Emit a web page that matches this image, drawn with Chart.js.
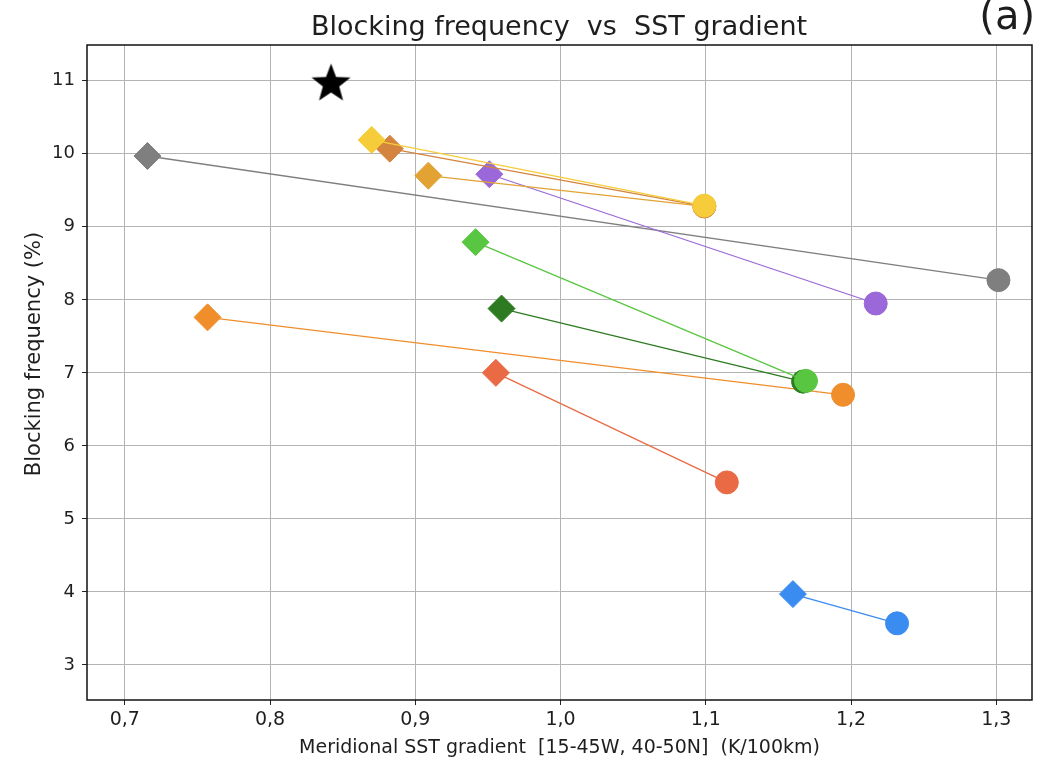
<!DOCTYPE html>
<html>
<head>
<meta charset="utf-8">
<script src="https://cdn.jsdelivr.net/npm/chart.js@4.4.1/dist/chart.umd.min.js"></script>
<style>
  html, body { margin: 0; padding: 0; background: #fff; }
  #wrap { width: 1053px; height: 764px; position: relative; }
</style>
</head>
<body>
<div id="wrap"><canvas id="c"></canvas></div>
<script>
'use strict';

// ── Data ────────────────────────────────────────────────────────────────────
// index 0 is drawn on top
var runColors  = ['#f6cc3a', '#d4843e', '#e2a234', '#9a68d8', '#58c640',
                  '#2e7a22', '#f08e2c', '#e96a44', '#3b8cf0', '#7f7f7f'];
var diamondX   = [0.870, 0.8825, 0.909, 0.951, 0.9415, 0.9594, 0.757, 0.9555, 1.160, 0.7156];
var diamondY   = [10.19, 10.07,  9.70,  9.72,  8.79,   7.88,   7.76,  7.00,   3.97,  9.97];
var circleX    = [1.099, 1.099,  1.099, 1.217, 1.169,  1.167,  1.1945, 1.1145, 1.2317, 1.3015];
var circleY    = [9.29,  9.28,   9.28,  7.95,  6.89,   6.88,   6.70,  5.50,   3.57,  8.27];
var starX      = [0.842];
var starY      = [10.98];

var xTicks     = [0.7, 0.8, 0.9, 1.0, 1.1, 1.2, 1.3];
var yTicks     = [3, 4, 5, 6, 7, 8, 9, 10, 11];

var FONT = "'DejaVu Sans', sans-serif";
var TXT  = '#1e1e1e';

// ── Star marker image ───────────────────────────────────────────────────────
function makeStar(r) {
  var c = document.createElement('canvas');
  c.width = c.height = Math.ceil(2 * r + 2);
  var g = c.getContext('2d');
  var cx = c.width / 2, cy = c.height / 2 + r * 0.08;
  g.beginPath();
  for (var i = 0; i < 10; i++) {
    var rr = (i % 2 === 0) ? r : r * 0.42;
    var a = -Math.PI / 2 + i * Math.PI / 5;
    var px = cx + rr * Math.cos(a), py = cy + rr * Math.sin(a);
    if (i === 0) g.moveTo(px, py); else g.lineTo(px, py);
  }
  g.closePath();
  g.fillStyle = '#000';
  g.fill();
  return c;
}

// ── Datasets ────────────────────────────────────────────────────────────────
var datasets = [{
  label: 'obs',
  data: [{ x: starX[0], y: starY[0] }],
  pointStyle: makeStar(20.5),
  showLine: false
}];
runColors.forEach(function (col, i) {
  datasets.push({
    label: 'run' + i,
    data: [{ x: diamondX[i], y: diamondY[i] }, { x: circleX[i], y: circleY[i] }],
    showLine: true,
    borderColor: col,
    borderWidth: 1.3,
    backgroundColor: col,
    pointBackgroundColor: col,
    pointBorderColor: col,
    pointBorderWidth: 1,
    pointStyle: ['rectRot', 'circle'],
    pointRadius: [13.5, 11.5]
  });
});

// ── Plugins: frame, title, panel letter, y-title ────────────────────────────
var decor = {
  id: 'decor',
  afterDraw: function (chart) {
    var ctx = chart.ctx, a = chart.chartArea;
    ctx.save();
    ctx.strokeStyle = '#111';
    ctx.lineWidth = 1.5;
    ctx.strokeRect(a.left, a.top, a.right - a.left, a.bottom - a.top);

    ctx.fillStyle = TXT;
    ctx.textBaseline = 'alphabetic';
    ctx.textAlign = 'center';
    ctx.font = '27px ' + FONT;
    ctx.fillText('Blocking frequency  vs  SST gradient', 559, 35);

    ctx.textAlign = 'right';
    ctx.font = '40px ' + FONT;
    ctx.fillText('(a)', 1035, 29);

    ctx.translate(35, 354);
    ctx.rotate(-Math.PI / 2);
    ctx.textAlign = 'center';
    ctx.textBaseline = 'middle';
    ctx.font = '21px ' + FONT;
    ctx.fillText('Blocking frequency (%)', 0, 0);
    ctx.restore();
  }
};

new Chart(document.getElementById('c'), {
  type: 'scatter',
  data: { datasets: datasets },
  options: {
    responsive: true,
    maintainAspectRatio: false,
    animation: false,
    events: [],
    layout: { padding: { top: 45, right: 21, left: 0, bottom: 0 } },
    plugins: { legend: { display: false }, tooltip: { enabled: false } },
    scales: {
      x: {
        type: 'linear',
        min: 0.674,
        max: 1.3246,
        afterFit: function (s) { s.height = 64; },
        afterBuildTicks: function (s) { s.ticks = xTicks.map(function (v) { return { value: v }; }); },
        ticks: {
          font: { family: FONT, size: 19 },
          color: TXT,
          padding: 4,
          maxRotation: 0,
          callback: function (v) { return Number(v).toFixed(1).replace('.', ','); }
        },
        grid: { color: '#b4b4b4', lineWidth: 1, tickColor: '#222', tickLength: 5 },
        border: { display: false },
        title: {
          display: true,
          text: 'Meridional SST gradient  [15-45W, 40-50N]  (K/100km)',
          font: { family: FONT, size: 19 },
          color: TXT,
          padding: { top: 0, bottom: 5 }
        }
      },
      y: {
        type: 'linear',
        min: 2.52,
        max: 11.49,
        afterFit: function (s) { s.width = 87; },
        afterBuildTicks: function (s) { s.ticks = yTicks.map(function (v) { return { value: v }; }); },
        ticks: {
          font: { family: FONT, size: 18 },
          color: TXT,
          padding: 7
        },
        grid: { color: '#b4b4b4', lineWidth: 1, tickColor: '#222', tickLength: 5 },
        border: { display: false }
      }
    }
  },
  plugins: [decor]
});
</script>
</body>
</html>
